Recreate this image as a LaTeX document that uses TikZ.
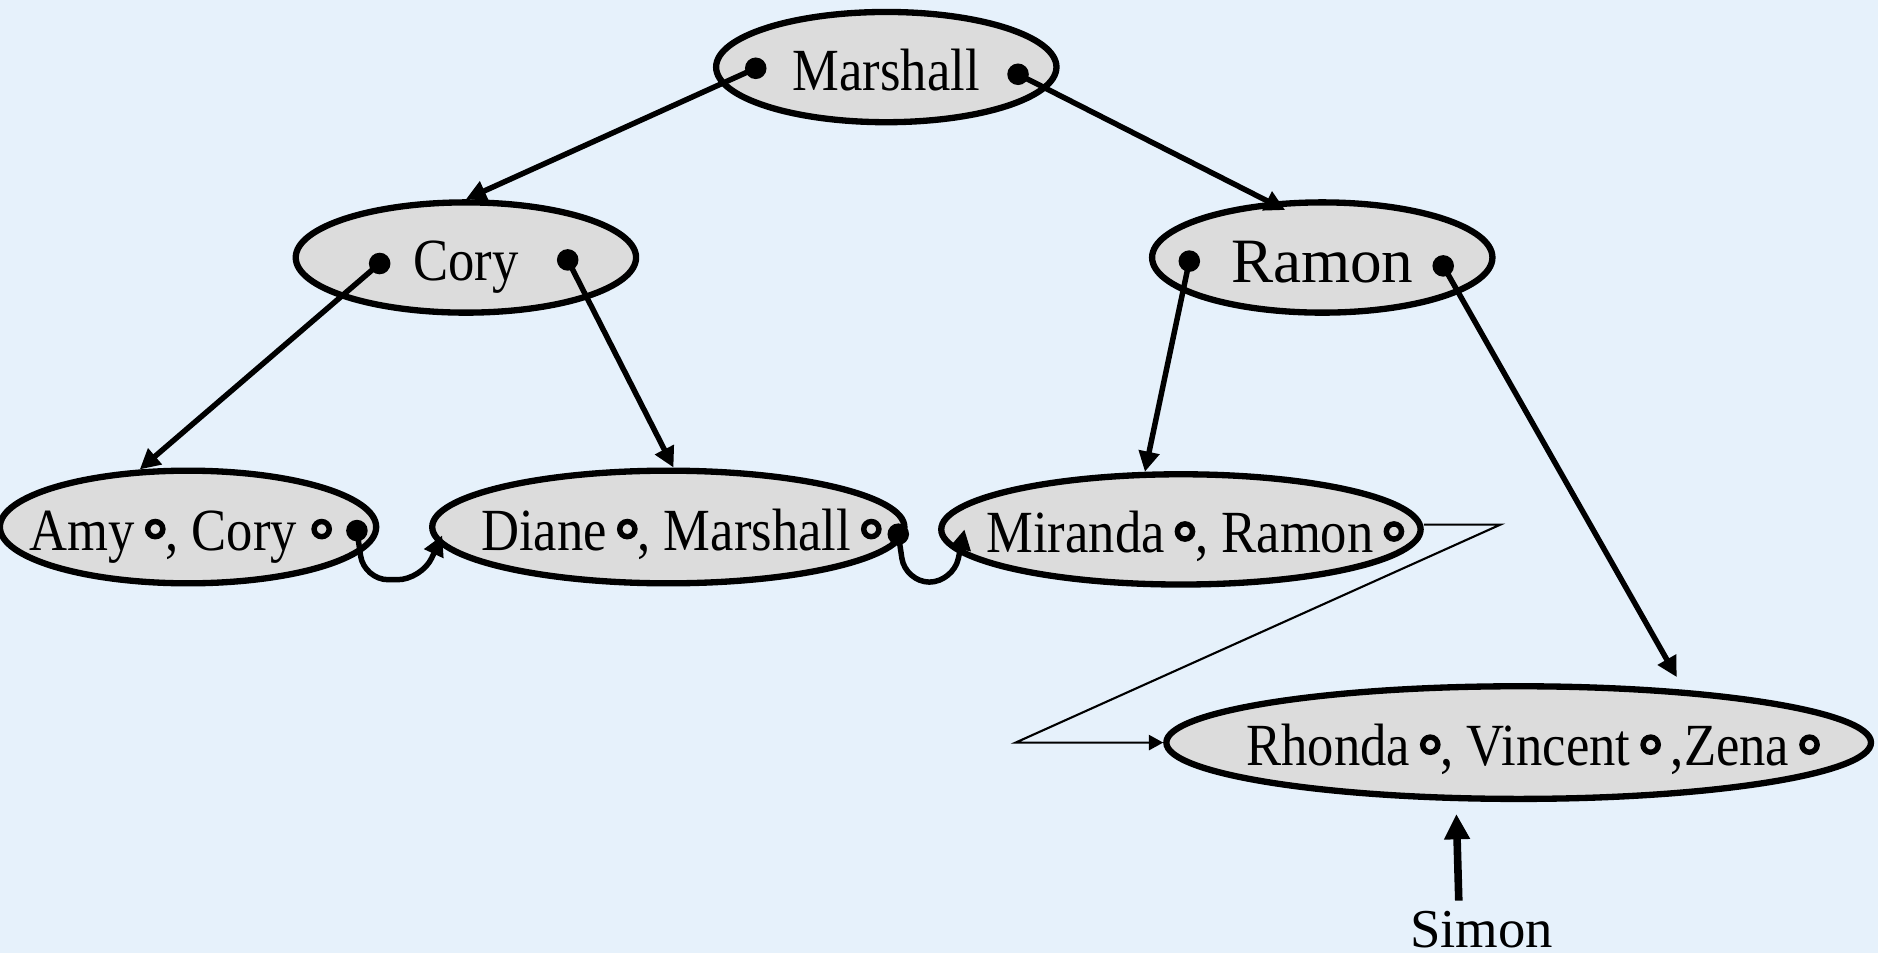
\documentclass[tikz,border=0pt]{standalone}
\usepackage{fontspec}
\setmainfont{Liberation Serif}
\newfontfamily\narrowserif{Liberation Serif}[FakeStretch=0.88]
\usetikzlibrary{shapes.geometric,arrows.meta,calc}
\definecolor{paleblue}{RGB}{230,241,251}
\definecolor{nodegray}{RGB}{220,220,220}
\newcommand{\ringmark}{\tikz[baseline=-5pt]\draw[black,line width=1.3pt] (0,0) circle (1.8pt);}

\begin{document}
\begin{tikzpicture}[x=0.01cm,y=-0.01cm]
\tikzstyle{every node}+=[inner sep=0pt]
\tikzstyle{rec}=[ellipse, draw=black, line width=1.5pt, fill=nodegray, text height=11pt, text depth=0pt, font=\narrowserif\fontsize{14.2pt}{16pt}\selectfont]
\tikzstyle{ptr}=[circle, fill=black, minimum size=0.18cm]
\tikzstyle{link}=[black, line width=1.3pt, -{Triangle[length=4.8pt,width=4.8pt]}]
\fill [paleblue] (0,0) rectangle (1568,796);
\useasboundingbox (0,0) rectangle (1568,796);
\node [rec, minimum width=2.84cm, minimum height=0.92cm] (marshall) at (740,56) {\makebox[0pt]{Marshall}};
\node [rec, minimum width=2.84cm, minimum height=0.92cm] (cory) at (389,215) {\makebox[0pt]{Cory}};
\node [rec, minimum width=2.84cm, minimum height=0.92cm, text height=12pt, font=\fontsize{15pt}{18pt}\selectfont] (ramon) at (1104,215) {\makebox[0pt]{Ramon}};
\node [rec, minimum width=3.14cm, minimum height=0.94cm] (amy) at (157,440) {\makebox[0pt]{\hspace*{-0.12cm}Amy\,\ringmark, Cory\,\kern1pt\ringmark}};
\node [rec, minimum width=3.94cm, minimum height=0.94cm] (diane) at (558,440) {\makebox[0pt]{\hspace*{0.22cm}Diane\,\ringmark, Marshall\,\ringmark}};
\node [rec, minimum width=4.00cm, minimum height=0.92cm] (miranda) at (986,442) {\makebox[0pt]{\hspace*{0.24cm}Miranda\,\ringmark, Ramon\,\ringmark}};
\node [rec, minimum width=5.88cm, minimum height=0.94cm] (rhonda) at (1268,620) {\makebox[0pt]{\hspace*{0.24cm}Rhonda\,\ringmark, Vincent\,\ringmark\,,Zena\,\ringmark}};
\node [font=\fontsize{13pt}{15pt}\selectfont] (simon) at (1237,776) {Simon};
\node [ptr] (mL) at (631,57) {};
\node [ptr] (mR) at (850,62) {};
\node [ptr] (cL) at (317,220) {};
\node [ptr] (cR) at (474,217) {};
\node [ptr] (rL) at (993,218) {};
\node [ptr] (rR) at (1205,222) {};
\node [ptr] (aR) at (298,443) {};
\node [ptr] (dR) at (750,446) {};
\draw [link] (mL.center) -- (cory.north);
\draw [link] (mR.center) -- ($(ramon.north)+(-31,9)$);
\draw [link] (cL.center) -- (amy.130);
\draw [link] (cR.center) -- (diane.85);
\draw [link] (rL.center) -- (miranda.122);
\draw [link] (rR.center) -- ($(rhonda.north)+(132,-5)$);
\draw [link, rounded corners=2mm] (aR.center) -- ++(6,41) -- ++(48,0) -- ($(diane.west)+(11,7)$);
\draw [link, rounded corners=2mm] (dR.center) -- ++(6,40) -- ++(40,0) -- ($(miranda.west)+(22,0)$);
\draw [black, line width=0.5pt, -{Triangle[length=3.4pt,width=3.6pt]}] ($(miranda.east)+(0,-4)$) -- ++(64,0) -- (848,620) -- (rhonda.west);
\draw [black, line width=1.8pt, -{Triangle[length=6pt,width=5.8pt]}] ($(simon.north)+(-19,-8)$) -- ($(rhonda.south)+(-52,10)$);
\end{tikzpicture}
\end{document}
